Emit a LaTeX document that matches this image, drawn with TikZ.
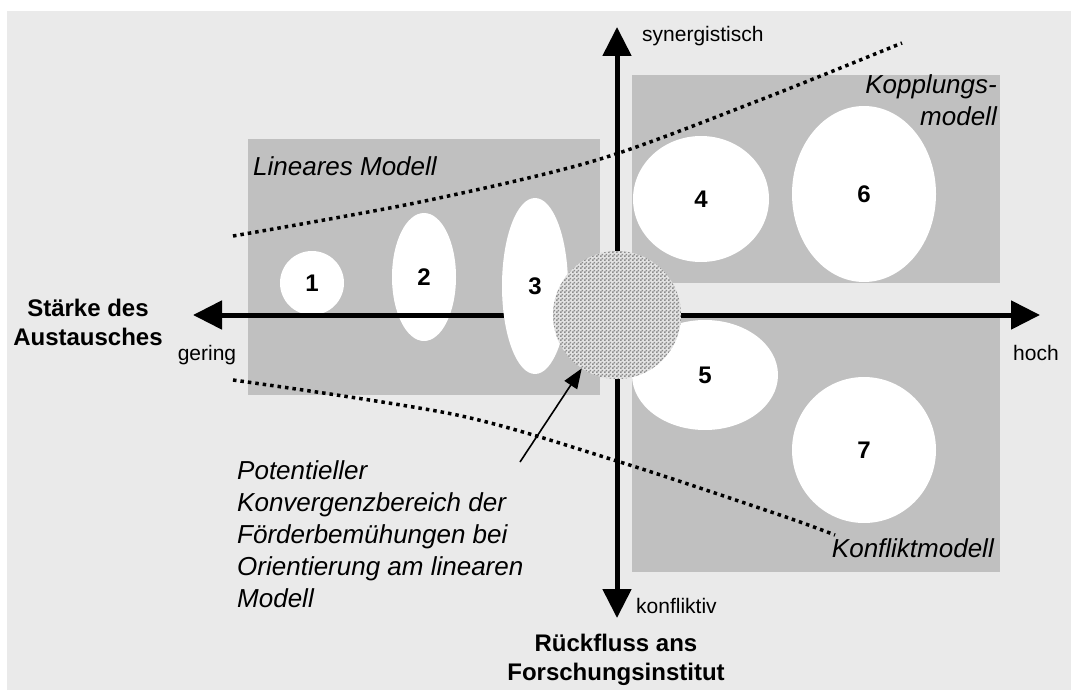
\documentclass[tikz,border=0pt]{standalone}
\usepackage{fontspec}
\setmainfont{Liberation Sans}
\usetikzlibrary{arrows.meta,shapes.geometric,patterns}

\pgfdeclarepatternformonly{kreuzraster}{\pgfpointorigin}{\pgfpoint{4pt}{4pt}}{\pgfpoint{4pt}{4pt}}{%
  \pgfpathrectangle{\pgfpointorigin}{\pgfpoint{2pt}{2pt}}%
  \pgfpathrectangle{\pgfpoint{2pt}{2pt}}{\pgfpoint{2pt}{2pt}}%
  \pgfusepath{fill}}

\definecolor{bgc}{HTML}{EAEAEA}
\definecolor{boxc}{HTML}{C0C0C0}

\begin{document}
\begin{tikzpicture}[x=1pt,y=-1pt,
  zone/.style={fill=boxc, draw=none},
  blob/.style={ellipse, fill=white, draw=none, inner sep=0pt, outer sep=0pt,
    font=\bfseries\fontsize{24}{28}\selectfont},
  axisboth/.style={line width=5pt, {Triangle[length=29pt,width=28pt]}-{Triangle[length=29pt,width=28pt]}},
  dotline/.style={line width=3.5pt, dash pattern=on 3.5pt off 4pt},
  small/.style={font=\fontsize{21}{25}\selectfont, inner sep=0pt},
  ital/.style={font=\itshape\fontsize{26}{32}\selectfont, inner sep=0pt},
  boldlab/.style={font=\bfseries\fontsize{24}{29}\selectfont, inner sep=0pt},
  pointer/.style={line width=1.6pt, -{Triangle[length=20pt,width=15pt]}},
  ]
\useasboundingbox (0,0) rectangle (1071,693);
\fill[bgc] (7,11) rectangle (1071,690);

% zones
\fill[zone] (248,139) rectangle (600,395);
\fill[zone] (632,75) rectangle (1000,283);
\fill[zone] (632,318) rectangle (1000,572);

% dotted boundaries
\draw[dotline] plot[smooth] coordinates {(233,236) (420,202) (597,160) (760,100) (902,43)};
\draw[dotline] plot[smooth] coordinates {(233,380) (457,415) (620,462) (780,515) (835,535)};

% ellipses behind the axis
\node[blob, minimum width=64pt, minimum height=64pt] (e1) at (312,283) {1};
\node[blob, minimum width=64pt, minimum height=128pt] (e2) at (424,277) {2};

% axes
\coordinate (xl) at (193,315);
\coordinate (xr) at (1040,315);
\coordinate (yt) at (617,27);
\coordinate (yb) at (617,618);
\draw[axisboth] (xl) -- (xr);
\draw[axisboth] (yt) -- (yb);

% ellipses in front
\node[blob, minimum width=66pt, minimum height=176pt] (e3) at (535,286) {3};
\node[blob, minimum width=136pt, minimum height=126pt] (e4) at (701,199) {4};
\node[blob, minimum width=144pt, minimum height=176pt] (e6) at (864,194) {6};
\node[blob, minimum width=146pt, minimum height=110pt] (e5) at (705,375) {5};
\node[blob, minimum width=144pt, minimum height=146pt] (e7) at (864,450) {7};

% convergence area
\node[circle, minimum size=128pt, inner sep=0pt, outer sep=0pt,
  preaction={fill=gray!22}, pattern=kreuzraster, pattern color=gray!90] (conv) at (617,315) {};

% labels
\node[small, anchor=base west] (syn) at (642,42) {synergistisch};
\node[small, anchor=base west] (konf) at (636,613) {konfliktiv};
\node[small, anchor=base] (ger) at (207,360) {gering};
\node[small, anchor=base] (hoch) at (1036,360) {hoch};

\node[boldlab, anchor=north, align=center] (xlab) at (88,299) {Stärke des\\Austausches};
\node[boldlab, anchor=north, align=center] (ylab) at (616,634) {Rückfluss ans\\Forschungsinstitut};

\node[ital, anchor=base west] (lin) at (253,175) {Lineares Modell};
\node[ital, anchor=north east, align=right] (kop) at (997,74) {Kopplungs-\\modell};
\node[ital, anchor=base east] (kfl) at (994,557) {Konfliktmodell};

\node[ital, anchor=north west, align=left] (pot) at (237,460)
  {Potentieller\\Konvergenzbereich der\\Förderbemühungen bei\\Orientierung am linearen\\Modell};

\coordinate (ps) at (520,462);
\draw[pointer] (ps) -- (conv);
\end{tikzpicture}
\end{document}
